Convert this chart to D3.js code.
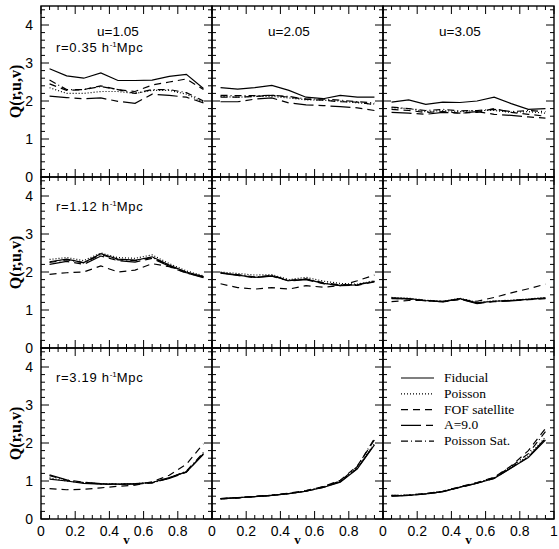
<!DOCTYPE html>
<html>
<head>
<meta charset="UTF-8" />
<script src="https://d3js.org/d3.v7.min.js"></script>
<style>
  body { margin: 0; background: white; }
  svg { display: block; }
  .tick-label { font-family: "Liberation Sans", Arial, sans-serif; font-size: 14px; }
  .serif { font-family: "Liberation Serif", "Times New Roman", serif; }
</style>
</head>
<body>
<svg width="559" height="549"></svg>
<script>
// v bins
const vValues = [0.05, 0.15, 0.25, 0.35, 0.45, 0.55, 0.65, 0.75, 0.85, 0.95];

// panel labels
const uLabels = ["u=1.05", "u=2.05", "u=3.05"];
const rLabels = ["0.35", "1.12", "3.19"];

// Q(r,u,v) per panel, row-major: [r0u0, r0u1, r0u2, r1u0, ...]
const fiducial = [
  [2.85, 2.66, 2.6, 2.74, 2.54, 2.54, 2.55, 2.65, 2.7, 2.33],
  [2.35, 2.31, 2.35, 2.41, 2.28, 2.1, 2.06, 2.15, 2.1, 2.1],
  [1.97, 2.03, 1.91, 1.97, 1.96, 2.0, 2.1, 1.93, 1.78, 1.8],
  [2.27, 2.34, 2.25, 2.48, 2.34, 2.31, 2.4, 2.18, 2.0, 1.88],
  [1.98, 1.92, 1.86, 1.9, 1.77, 1.81, 1.7, 1.65, 1.66, 1.75],
  [1.32, 1.3, 1.25, 1.22, 1.3, 1.19, 1.23, 1.25, 1.28, 1.32],
  [1.05, 1.0, 0.94, 0.92, 0.92, 0.93, 0.96, 1.09, 1.24, 1.7],
  [0.53, 0.56, 0.59, 0.62, 0.67, 0.73, 0.83, 0.97, 1.32, 1.95],
  [0.61, 0.62, 0.66, 0.72, 0.84, 0.94, 1.07, 1.34, 1.62, 2.08]
];
const poisson = [
  [2.35, 2.2, 2.2, 2.25, 2.25, 2.2, 2.28, 2.28, 2.18, 1.97],
  [2.12, 2.1, 2.12, 2.12, 2.08, 2.03, 2.02, 2.0, 1.95, 1.92],
  [1.82, 1.8, 1.72, 1.75, 1.72, 1.75, 1.75, 1.7, 1.72, 1.68],
  [2.33, 2.38, 2.3, 2.5, 2.38, 2.36, 2.45, 2.22, 2.03, 1.9],
  [2.0, 1.96, 1.92, 1.93, 1.8, 1.86, 1.76, 1.7, 1.68, 1.77],
  [1.33, 1.31, 1.26, 1.23, 1.31, 1.2, 1.24, 1.26, 1.29, 1.33],
  [1.08, 1.0, 0.95, 0.93, 0.92, 0.93, 0.96, 1.08, 1.25, 1.72],
  [0.53, 0.56, 0.59, 0.62, 0.67, 0.74, 0.84, 0.99, 1.35, 1.98],
  [0.62, 0.63, 0.67, 0.73, 0.84, 0.95, 1.08, 1.36, 1.66, 2.15]
];
const fofSatellite = [
  [2.45, 2.28, 2.3, 2.4, 2.3, 2.25, 2.42, 2.5, 2.58, 2.3],
  [2.1, 2.1, 2.12, 2.15, 2.1, 2.05, 2.02, 1.98, 1.97, 1.9],
  [1.78, 1.75, 1.7, 1.72, 1.68, 1.7, 1.8, 1.7, 1.65, 1.6],
  [1.94, 1.98, 2.0, 2.16, 2.0, 2.05, 2.22, 2.14, 1.97, 1.88],
  [1.69, 1.59, 1.55, 1.59, 1.55, 1.64, 1.6, 1.64, 1.77, 1.92],
  [1.22, 1.25, 1.25, 1.23, 1.27, 1.23, 1.33, 1.45, 1.56, 1.68],
  [0.8, 0.77, 0.78, 0.82, 0.86, 0.89, 0.98, 1.15, 1.44, 1.98],
  [0.54, 0.56, 0.6, 0.63, 0.68, 0.75, 0.85, 1.02, 1.4, 2.08],
  [0.62, 0.63, 0.67, 0.73, 0.85, 0.96, 1.1, 1.4, 1.8, 2.38]
];
const a90 = [
  [2.13, 2.09, 2.06, 2.08, 1.99, 1.94, 2.18, 2.15, 2.1, 1.95],
  [1.98, 1.98, 2.05, 2.08, 1.95, 1.9, 1.88, 1.85, 1.82, 1.75],
  [1.7, 1.68, 1.65, 1.7, 1.68, 1.72, 1.65, 1.62, 1.58, 1.55],
  [2.2, 2.28, 2.2, 2.42, 2.3, 2.26, 2.36, 2.15, 1.98, 1.85],
  [1.97, 1.91, 1.85, 1.89, 1.76, 1.8, 1.69, 1.64, 1.65, 1.74],
  [1.3, 1.29, 1.25, 1.21, 1.29, 1.17, 1.22, 1.24, 1.27, 1.3],
  [1.16, 1.03, 0.97, 0.93, 0.92, 0.92, 0.95, 1.07, 1.23, 1.72],
  [0.54, 0.56, 0.59, 0.62, 0.67, 0.73, 0.83, 0.98, 1.33, 1.97],
  [0.6, 0.62, 0.66, 0.72, 0.83, 0.94, 1.07, 1.35, 1.63, 2.12]
];
const poissonSat = [
  [2.55, 2.3, 2.3, 2.38, 2.3, 2.2, 2.3, 2.3, 2.22, 2.0],
  [2.15, 2.14, 2.14, 2.15, 2.12, 2.05, 2.05, 2.02, 1.98, 1.95],
  [1.84, 1.8, 1.75, 1.78, 1.74, 1.75, 1.78, 1.72, 1.75, 1.72],
  [2.25, 2.32, 2.24, 2.46, 2.32, 2.3, 2.38, 2.17, 1.98, 1.86],
  [1.98, 1.93, 1.87, 1.91, 1.78, 1.82, 1.72, 1.66, 1.67, 1.76],
  [1.31, 1.29, 1.24, 1.22, 1.29, 1.18, 1.23, 1.25, 1.28, 1.31],
  [1.14, 1.02, 0.96, 0.92, 0.91, 0.92, 0.95, 1.08, 1.26, 1.75],
  [0.53, 0.55, 0.59, 0.62, 0.67, 0.74, 0.85, 1.0, 1.38, 2.12],
  [0.61, 0.62, 0.66, 0.72, 0.84, 0.95, 1.09, 1.38, 1.72, 2.3]
];

const series = [
  { name: "Fiducial", data: fiducial, dash: null },
  { name: "Poisson", data: poisson, dash: "1,2" },
  { name: "FOF satellite", data: fofSatellite, dash: "7,5" },
  { name: "A=9.0", data: a90, dash: "20,5,7,5" },
  { name: "Poisson Sat.", data: poissonSat, dash: "7,3,1,3" }
];

const svg = d3.select("svg");
const marginLeft = 41, marginTop = 6, pw = 171, ph = 171;

const x = d3.scaleLinear().domain([0, 1]).range([0, pw]);
const y = d3.scaleLinear().domain([0, 4.5]).range([ph, 0]);

const line = d3.line().x((d, i) => x(vValues[i])).y(d => y(d));

const xMajor = d3.range(0, 1.0001, 0.2);
const xMinor = d3.range(0, 1.0001, 0.05);
const yMajor = d3.range(0, 4.5, 1);
const yMinor = d3.range(0, 4.5001, 0.2);

for (let row = 0; row < 3; row++) {
  for (let col = 0; col < 3; col++) {
    const idx = row * 3 + col;
    const g = svg.append("g").attr("transform", `translate(${marginLeft + col * pw},${marginTop + row * ph})`);

    // data lines
    series.forEach(s => {
      g.append("path")
        .attr("d", line(s.data[idx]))
        .attr("fill", "none")
        .attr("stroke", "black")
        .attr("stroke-width", 1.2)
        .attr("stroke-dasharray", s.dash);
    });

    // frame
    g.append("rect").attr("width", pw).attr("height", ph)
      .attr("fill", "none").attr("stroke", "black").attr("stroke-width", 1.4);

    // ticks, inward on every side
    const tk = g.append("g").attr("stroke", "black").attr("stroke-width", 1);
    xMinor.forEach(v => {
      const len = xMajor.some(m => Math.abs(m - v) < 1e-6) ? 8 : 4;
      tk.append("line").attr("x1", x(v)).attr("x2", x(v)).attr("y1", ph).attr("y2", ph - len);
      tk.append("line").attr("x1", x(v)).attr("x2", x(v)).attr("y1", 0).attr("y2", len);
    });
    yMinor.forEach(q => {
      const len = yMajor.some(m => Math.abs(m - q) < 1e-6) ? 8 : 4;
      tk.append("line").attr("y1", y(q)).attr("y2", y(q)).attr("x1", 0).attr("x2", len);
      tk.append("line").attr("y1", y(q)).attr("y2", y(q)).attr("x1", pw).attr("x2", pw - len);
    });

    // y tick labels on the first column
    if (col === 0) {
      yMajor.forEach(q => {
        svg.append("text").attr("class", "tick-label")
          .attr("x", marginLeft - 8).attr("y", marginTop + row * ph + y(q) + 5)
          .attr("text-anchor", "end").text(q);
      });
      svg.append("text").attr("class", "serif")
        .attr("transform", `translate(${21},${marginTop + row * ph + ph / 2}) rotate(-90)`)
        .attr("text-anchor", "middle")
        .style("font-size", "16px").style("font-weight", "bold")
        .text("Q(r,u,v)");

      const rt = g.append("text").attr("class", "tick-label")
        .attr("x", 15).attr("y", row === 0 ? 46 : 34)
        .style("font-size", "13px").style("letter-spacing", "0.7px");
      rt.append("tspan").text(`r=${rLabels[row]}  h`);
      rt.append("tspan").attr("dy", -5).style("font-size", "8px").style("letter-spacing", "0px").text("-1");
      rt.append("tspan").attr("dy", 5).text("Mpc");
    }

    // x tick labels on the bottom row
    if (row === 2) {
      const labs = col === 2 ? xMajor : xMajor.slice(0, 5);
      labs.forEach(v => {
        svg.append("text").attr("class", "tick-label")
          .attr("x", marginLeft + col * pw + x(v)).attr("y", marginTop + 3 * ph + 17)
          .attr("text-anchor", "middle")
          .text(v === 0 ? "0" : v === 1 ? "1" : d3.format(".1f")(v));
      });
      svg.append("text").attr("class", "serif")
        .attr("x", marginLeft + col * pw + pw / 2).attr("y", 544)
        .attr("text-anchor", "middle").style("font-size", "13px").style("font-weight", "bold")
        .text("v");
    }

    // u labels on the top row
    if (row === 0) {
      g.append("text").attr("class", "tick-label")
        .attr("x", x(0.45)).attr("y", 30)
        .attr("text-anchor", "middle").style("font-size", "13.5px")
        .text(uLabels[col]);
    }

    // legend in bottom-right panel
    if (row === 2 && col === 2) {
      series.forEach((s, i) => {
        const ly = 30 + i * 15.8;
        g.append("line").attr("x1", 18).attr("x2", 51).attr("y1", ly).attr("y2", ly)
          .attr("stroke", "black").attr("stroke-width", 1.2).attr("stroke-dasharray", s.dash);
        g.append("text").attr("class", "serif")
          .attr("x", 61).attr("y", ly + 4).style("font-size", "13.5px")
          .text(s.name);
      });
    }
  }
}
</script>
</body>
</html>
